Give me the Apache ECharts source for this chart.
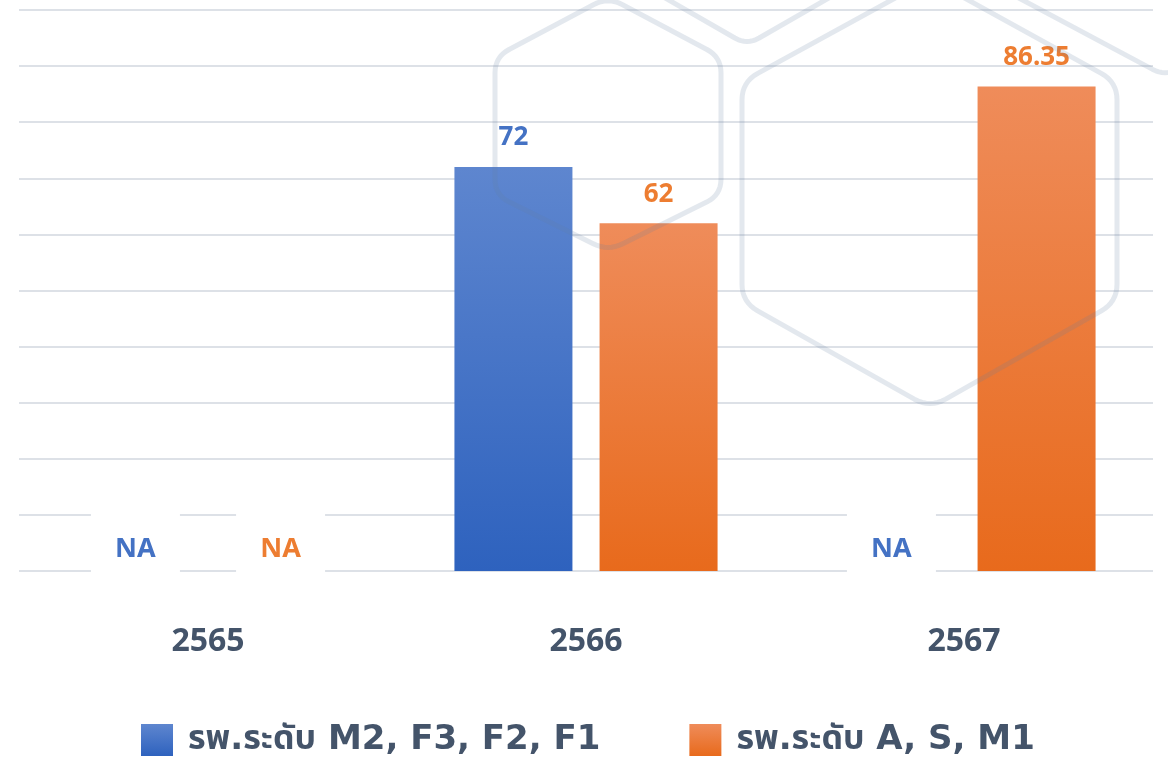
<!DOCTYPE html>
<html>
<head>
<meta charset="utf-8">
<script src="https://cdn.jsdelivr.net/npm/echarts@6/dist/echarts.min.js"></script>
<style>
html,body{margin:0;padding:0;background:#fff;}
#chart{width:1168px;height:766px;}
</style>
</head>
<body>
<div id="chart"></div>
<script>
// ---- data ----
var categories = ['2565', '2566', '2567'];
var seriesNames = ['รพ.ระดับ M2, F3, F2, F1', 'รพ.ระดับ A, S, M1'];
var blueValues = [null, 72, null];     // null = NA
var orangeValues = [null, 62, 86.35];  // null = NA
var naText = 'NA';

var FONT = '"Noto Sans", "Noto Sans Thai", "Noto Sans CJK SC", sans-serif';
var LEGEND_FONT = '"DejaVu Sans", "Noto Sans Thai", "Noto Sans", sans-serif';
var BLUE = '#4472C4', ORANGE = '#ED7D31', SLATE = '#44546A';

function grad(top, bottom) {
  return {type: 'linear', x: 0, y: 0, x2: 0, y2: 1,
    colorStops: [{offset: 0, color: top}, {offset: 1, color: bottom}]};
}

function buildData(vals, color) {
  return vals.map(function (v) {
    if (v === null) {
      return {
        value: 0,
        label: {
          show: true, formatter: naText, position: 'top', distance: -9,
          color: color, fontSize: 27, fontWeight: 'bold', fontFamily: FONT,
          backgroundColor: '#ffffff', width: 89, height: 62, lineHeight: 62,
          padding: [12, 0, 0, 0], align: 'center'
        }
      };
    }
    return v;
  });
}

// rounded polygon/polyline points for decorative watermark
function rounded(points, r, closed) {
  var out = [];
  var n = points.length;
  for (var i = 0; i < n; i++) {
    var p = points[i];
    var isEnd = !closed && (i === 0 || i === n - 1);
    if (isEnd) { out.push(p); continue; }
    var a = points[(i - 1 + n) % n], b = points[(i + 1) % n];
    var d1 = Math.hypot(a[0] - p[0], a[1] - p[1]);
    var d2 = Math.hypot(b[0] - p[0], b[1] - p[1]);
    var s = [p[0] + (a[0] - p[0]) * r / d1, p[1] + (a[1] - p[1]) * r / d1];
    var e = [p[0] + (b[0] - p[0]) * r / d2, p[1] + (b[1] - p[1]) * r / d2];
    for (var t = 0; t <= 1.0001; t += 0.125) {
      var x = (1 - t) * (1 - t) * s[0] + 2 * (1 - t) * t * p[0] + t * t * e[0];
      var y = (1 - t) * (1 - t) * s[1] + 2 * (1 - t) * t * p[1] + t * t * e[1];
      out.push([x, y]);
    }
  }
  return out;
}

var wmStyle = {stroke: 'rgba(100,130,160,0.18)', lineWidth: 5, fill: null, lineJoin: 'round', lineCap: 'round'};
var hex1 = [[608, -3], [721, 57], [721, 195], [608, 251], [495, 195], [495, 57]];
var hex2 = [[930, -21], [1117, 82], [1117, 302], [930, 408], [742, 302], [742, 82]];
var vee1 = [[660, -5], [747, 45], [834, -5]];
var vee2 = [[1000, -12], [1165, 76], [1330, -12]];

var chart = echarts.init(document.getElementById('chart'), null, {renderer: 'canvas'});
chart.setOption({
  backgroundColor: '#ffffff',
  animation: false,
  grid: {left: 19, right: 15, top: 10, bottom: 195, containLabel: false},
  xAxis: {
    type: 'category', data: categories,
    axisLine: {show: false}, axisTick: {show: false},
    axisLabel: {color: SLATE, fontSize: 32, fontWeight: 'bold', fontFamily: FONT, margin: 55}
  },
  yAxis: {
    type: 'value', min: 0, max: 100, interval: 10,
    axisLabel: {show: false}, axisLine: {show: false}, axisTick: {show: false},
    splitLine: {lineStyle: {color: '#DDE1E7', width: 2}}
  },
  legend: {
    bottom: 4, left: 136,
    itemWidth: 32, itemHeight: 32, itemGap: 89,
    icon: 'rect',
    textStyle: {color: SLATE, fontSize: 34, fontWeight: 'bold', fontFamily: LEGEND_FONT, padding: [10, 0, 0, 10]},
    data: seriesNames
  },
  series: [
    {
      name: seriesNames[0], type: 'bar', barWidth: 118, barGap: '23%',
      data: buildData(blueValues, BLUE),
      itemStyle: {color: grad('#5E86CF', '#2E62BE')},
      label: {show: true, position: 'top', distance: 16, color: BLUE, fontSize: 26, fontWeight: 'bold', fontFamily: FONT}
    },
    {
      name: seriesNames[1], type: 'bar', barWidth: 118,
      data: buildData(orangeValues, ORANGE),
      itemStyle: {color: grad('#EF8C5A', '#E86A1C')},
      label: {show: true, position: 'top', distance: 16, color: ORANGE, fontSize: 26, fontWeight: 'bold', fontFamily: FONT}
    }
  ],
  graphic: [
    {type: 'polygon', z: 100, silent: true, shape: {points: rounded(hex1, 16, true)}, style: wmStyle},
    {type: 'polygon', z: 100, silent: true, shape: {points: rounded(hex2, 18, true)}, style: wmStyle},
    {type: 'polyline', z: 100, silent: true, shape: {points: rounded(vee1, 14, false)}, style: wmStyle},
    {type: 'polyline', z: 100, silent: true, shape: {points: rounded(vee2, 14, false)}, style: wmStyle}
  ]
});
</script>
</body>
</html>
